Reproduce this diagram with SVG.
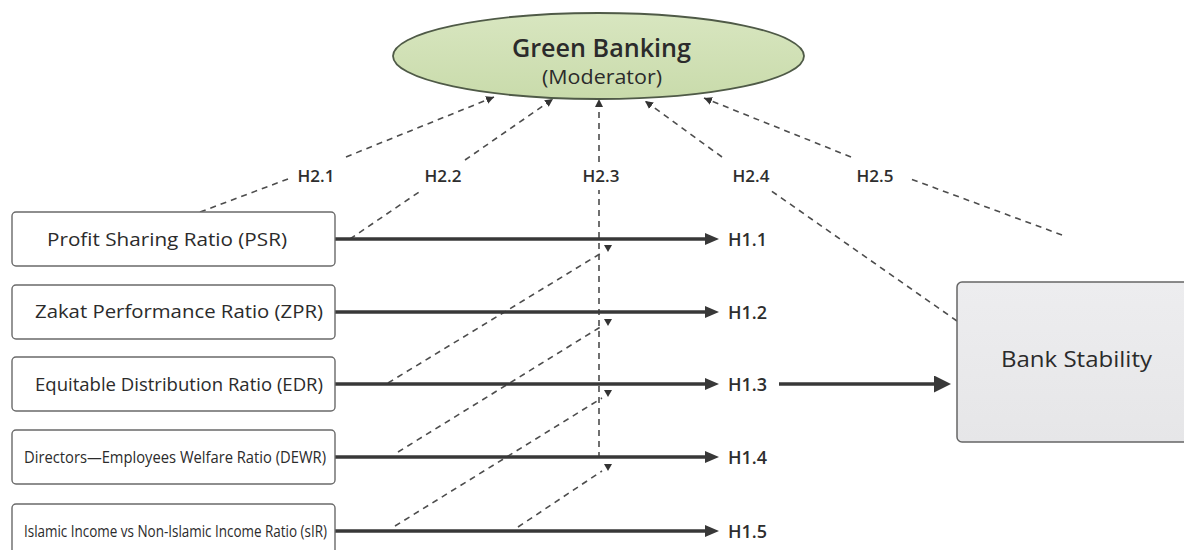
<svg xmlns="http://www.w3.org/2000/svg" width="1184" height="550" viewBox="0 0 1184 550">
<style>
.box{fill:#ffffff;stroke:#6a6a6a;stroke-width:1.4}
.t{font-family:"Open Sans","Noto Sans","Liberation Sans",sans-serif;fill:#2b2b2b}
.bt{font-size:18px}
.st{font-size:16px}
.lbl{font-family:"Open Sans","Noto Sans","Liberation Sans",sans-serif;fill:#2e2e2e;font-weight:600}
.h1{font-size:18px}
.h2{font-size:17px;text-anchor:middle}
.dash{fill:none;stroke:#4d4d4d;stroke-width:1.6;stroke-dasharray:6 5}
.solid{fill:none;stroke:#383838;stroke-width:3.6}
.tri{fill:#333333}
</style>
<defs>
<linearGradient id="gEll" x1="0" y1="0" x2="0" y2="1">
<stop offset="0" stop-color="#d8e6c0"/>
<stop offset="1" stop-color="#c9dbab"/>
</linearGradient>
<linearGradient id="gBox" x1="0" y1="0" x2="0" y2="1">
<stop offset="0" stop-color="#ededef"/>
<stop offset="1" stop-color="#e6e6e8"/>
</linearGradient>
<marker id="aSmall" markerUnits="userSpaceOnUse" markerWidth="10" markerHeight="9" refX="8" refY="4" orient="auto">
<path d="M0,0 L8,4 L0,8 z" fill="#333333"/>
</marker>
<marker id="aMid" markerUnits="userSpaceOnUse" markerWidth="16" markerHeight="14" refX="4" refY="6" orient="auto">
<path d="M0,0 L14,6 L0,12 z" fill="#383838"/>
</marker>
<marker id="aBig" markerUnits="userSpaceOnUse" markerWidth="20" markerHeight="19" refX="3" refY="8.5" orient="auto">
<path d="M0,0 L17,8.5 L0,17 z" fill="#383838"/>
</marker>
</defs>
<rect x="0" y="0" width="1184" height="550" fill="#ffffff"/>

<g id="connectors">
<path class="dash" d="M200,212 L288,179"/>
<path class="dash" d="M346,157 L494,97" marker-end="url(#aSmall)"/>
<path class="dash" d="M350,239 L422,190"/>
<path class="dash" d="M465,160 L553,99" marker-end="url(#aSmall)"/>
<path class="dash" d="M599,458 L599,190"/>
<path class="dash" d="M599,162 L599,99" marker-end="url(#aSmall)"/>
<path class="dash" d="M957,321 L770,190"/>
<path class="dash" d="M722,157 L645,101" marker-end="url(#aSmall)"/>
<path class="dash" d="M1062,235 L908,178"/>
<path class="dash" d="M851,157 L704,98" marker-end="url(#aSmall)"/>
<path class="dash" d="M388,383 L603,252"/>
<path class="dash" d="M398,452 L602,326"/>
<path class="dash" d="M395,526 L602,398"/>
<path class="dash" d="M518,527 L602,471"/>
<polygon class="tri" points="604,245 612,245 608,252"/>
<polygon class="tri" points="604,319 612,319 608,326"/>
<polygon class="tri" points="604,390 612,390 608,397"/>
<polygon class="tri" points="604,464 612,464 608,471"/>
<line class="solid" x1="335" y1="239" x2="709" y2="239" marker-end="url(#aMid)"/>
<line class="solid" x1="335" y1="312" x2="709" y2="312" marker-end="url(#aMid)"/>
<line class="solid" x1="335" y1="384" x2="709" y2="384" marker-end="url(#aMid)"/>
<line class="solid" x1="335" y1="457" x2="709" y2="457" marker-end="url(#aMid)"/>
<line class="solid" x1="335" y1="531" x2="709" y2="531" marker-end="url(#aMid)"/>
<line class="solid" x1="779" y1="384" x2="937" y2="384" marker-end="url(#aBig)"/>
<text class="lbl h1" x="728" y="246">H1.1</text>
<text class="lbl h1" x="728" y="319">H1.2</text>
<text class="lbl h1" x="728" y="391">H1.3</text>
<text class="lbl h1" x="728" y="464">H1.4</text>
<text class="lbl h1" x="728" y="538">H1.5</text>
<text class="lbl h2" x="316" y="182">H2.1</text>
<text class="lbl h2" x="443" y="182">H2.2</text>
<text class="lbl h2" x="601" y="182">H2.3</text>
<text class="lbl h2" x="751" y="182">H2.4</text>
<text class="lbl h2" x="875" y="182">H2.5</text>
</g>

<g id="moderator">
<ellipse cx="598.5" cy="56" rx="205.5" ry="43" fill="url(#gEll)" stroke="#4f5a47" stroke-width="1.8"/>
<text class="t" x="601.5" y="57" font-size="26" font-weight="600" text-anchor="middle" textLength="179" lengthAdjust="spacingAndGlyphs">Green Banking</text>
<text class="t" x="602" y="84" font-size="20" text-anchor="middle" textLength="120" lengthAdjust="spacingAndGlyphs">(Moderator)</text>
</g>

<g id="psr">
<rect class="box" x="12" y="212" width="323" height="54" rx="4"/>
<text class="t bt" x="47" y="246" textLength="240" lengthAdjust="spacingAndGlyphs">Profit Sharing Ratio (PSR)</text>
</g>
<g id="zpr">
<rect class="box" x="12" y="285" width="323" height="54" rx="4"/>
<text class="t bt" x="35" y="318" textLength="288" lengthAdjust="spacingAndGlyphs">Zakat Performance Ratio (ZPR)</text>
</g>
<g id="edr">
<rect class="box" x="12" y="357" width="323" height="54" rx="4"/>
<text class="t bt" x="35" y="391" textLength="288" lengthAdjust="spacingAndGlyphs">Equitable Distribution Ratio (EDR)</text>
</g>
<g id="dewr">
<rect class="box" x="12" y="430" width="323" height="54" rx="4"/>
<text class="t st" x="24" y="463" textLength="302" lengthAdjust="spacingAndGlyphs">Directors—Employees Welfare Ratio (DEWR)</text>
</g>
<g id="sir">
<rect class="box" x="12" y="504" width="323" height="54" rx="4"/>
<text class="t st" x="24" y="537" textLength="303" lengthAdjust="spacingAndGlyphs">Islamic Income vs Non-Islamic Income Ratio (sIR)</text>
</g>
<g id="stability">
<rect x="957" y="282" width="240" height="160" rx="5" fill="url(#gBox)" stroke="#666666" stroke-width="1.5"/>
<text class="t" x="1001" y="367" font-size="21" textLength="151" lengthAdjust="spacingAndGlyphs">Bank Stability</text>
</g>
</svg>
